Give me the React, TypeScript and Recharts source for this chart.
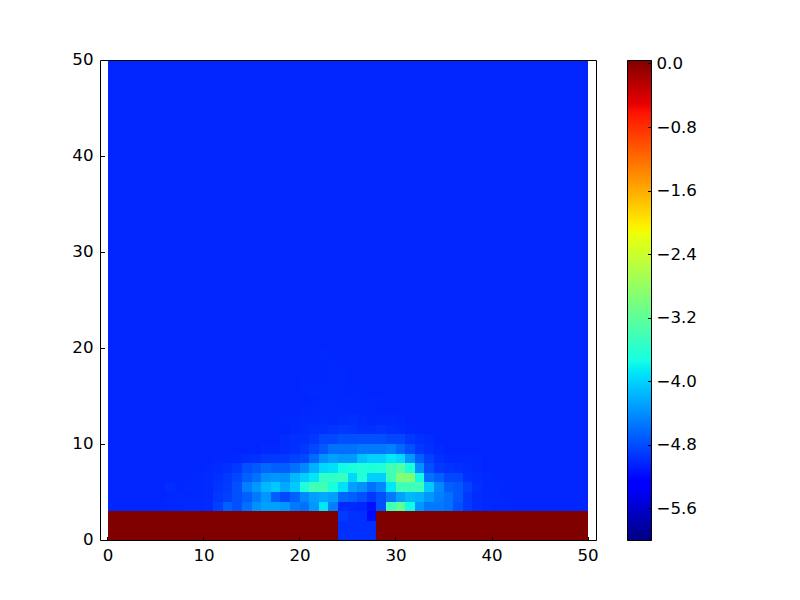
import React from 'react';
import { ComposedChart, ScatterChart, Scatter, XAxis, YAxis, ReferenceArea } from 'recharts';

// values
const background = -4.98;
const wall = 0.05;

const axisTicks = [0, 10, 20, 30, 40, 50];
const colorTicks = [0, -0.8, -1.6, -2.4, -3.2, -4, -4.8, -5.6];
const xDomain = [-0.78, 50.885];
const colorDomain = [-6, 0.044];
const cellRange = [-5.95, 0.05];

// the gap in the wall, columns 24..27, rows 0..2
const gapStart = 24;
const gapRow0 = [-4.92, -4.92, -4.92, -4.92];
const gapRow1 = [-4.92, -4.92, -4.92, -4.92];
const gapRow2 = [-4.86, -4.92, -4.92, -5.15];

// rows above the wall, all from column 10
const firstCol = 10;
const row3 = [-4.95, -4.82, -4.64, -4.73, -4.54, -4.35, -4.26, -4.26, -4.31, -4.49, -4.54, -4.31, -3.84, -4.45, -4.95, -4.96, -4.98, -5.1, -4.73, -3.38, -3.15, -3.72, -4.31, -4.49, -4.49, -4.54, -4.73, -4.87, -4.94];
const row4 = [-4.95, -4.87, -4.82, -4.73, -4.64, -4.49, -4.31, -4.64, -4.78, -4.64, -4.4, -4.26, -4.21, -4.26, -4.59, -4.64, -4.73, -4.87, -4.73, -4.49, -4.26, -4.12, -4.16, -4.31, -4.45, -4.54, -4.68, -4.87, -4.94];
const row5 = [-4.95, -4.9, -4.85, -4.73, -4.45, -4.31, -4.12, -4.02, -4.21, -4.02, -3.62, -3.38, -3.38, -3.68, -3.88, -4.26, -4.35, -4.54, -4.4, -3.84, -3.38, -3.4, -3.38, -4.02, -4.4, -4.64, -4.68, -4.82, -4.92];
const row6 = [-4.95, -4.92, -4.87, -4.78, -4.64, -4.54, -4.35, -4.31, -4.35, -4.12, -3.98, -3.84, -3.5, -3.5, -3.44, -3.93, -3.62, -3.98, -3.98, -3.38, -2.92, -2.92, -3.72, -4.54, -4.64, -4.78, -4.78, -4.92, -4.94];
const row7 = [-4.96, -4.95, -4.92, -4.87, -4.73, -4.68, -4.59, -4.64, -4.64, -4.54, -4.4, -4.16, -3.93, -3.88, -3.72, -3.68, -3.62, -3.65, -3.62, -3.38, -3.27, -3.65, -4.35, -4.73, -4.87, -4.9, -4.92, -4.94, -4.96];
const row8 = [-4.98, -4.97, -4.97, -4.96, -4.94, -4.92, -4.87, -4.87, -4.87, -4.82, -4.78, -4.59, -4.35, -4.26, -4.31, -4.31, -4.07, -3.98, -3.98, -3.84, -3.93, -4.31, -4.64, -4.82, -4.92, -4.96, -4.96, -4.96, -4.96];
const row9 = [-4.98, -4.98, -4.98, -4.98, -4.98, -4.98, -4.96, -4.96, -4.94, -4.92, -4.87, -4.78, -4.68, -4.54, -4.54, -4.54, -4.49, -4.49, -4.49, -4.45, -4.59, -4.73, -4.87, -4.92, -4.96, -4.98, -4.98, -4.98, -4.98];
const row10 = [-4.98, -4.98, -4.98, -4.98, -4.98, -4.98, -4.98, -4.98, -4.94, -4.92, -4.92, -4.87, -4.78, -4.78, -4.73, -4.73, -4.73, -4.73, -4.73, -4.78, -4.78, -4.87, -4.92, -4.94, -4.98, -4.98, -4.98, -4.98, -4.98];
const row11 = [-4.98, -4.98, -4.98, -4.98, -4.98, -4.98, -4.98, -4.98, -4.98, -4.96, -4.94, -4.92, -4.92, -4.89, -4.87, -4.89, -4.92, -4.92, -4.89, -4.92, -4.94, -4.96, -4.98, -4.98, -4.98, -4.98, -4.98, -4.98, -4.98];
const row12 = [-4.98, -4.98, -4.98, -4.98, -4.98, -4.98, -4.98, -4.98, -4.96, -4.96, -4.95, -4.95, -4.94, -4.96, -4.94, -4.92, -4.94, -4.96, -4.95, -4.95, -4.96, -4.98, -4.98, -4.98, -4.98, -4.98, -4.98, -4.98, -4.98];
const row13 = [-4.98, -4.98, -4.98, -4.98, -4.98, -4.98, -4.98, -4.98, -4.98, -4.98, -4.96, -4.96, -4.95, -4.95, -4.96, -4.96, -4.96, -4.97, -4.98, -4.98, -4.98, -4.98, -4.98, -4.98, -4.98, -4.98, -4.98, -4.98, -4.98];
const row14 = [-4.98, -4.98, -4.98, -4.98, -4.98, -4.98, -4.98, -4.98, -4.98, -4.98, -4.98, -4.97, -4.96, -4.96, -4.96, -4.96, -4.97, -4.96, -4.97, -4.98, -4.98, -4.98, -4.98, -4.98, -4.98, -4.98, -4.98, -4.98, -4.98];
const row15 = [-4.98, -4.98, -4.98, -4.98, -4.98, -4.98, -4.98, -4.98, -4.98, -4.98, -4.97, -4.96, -4.96, -4.96, -4.97, -4.97, -4.97, -4.98, -4.98, -4.98, -4.98, -4.98, -4.98, -4.98, -4.98, -4.98, -4.98, -4.98, -4.98];
const row16 = [-4.98, -4.98, -4.98, -4.98, -4.98, -4.98, -4.98, -4.98, -4.98, -4.98, -4.97, -4.97, -4.97, -4.96, -4.97, -4.98, -4.98, -4.98, -4.98, -4.98, -4.98, -4.98, -4.98, -4.98, -4.98, -4.98, -4.98, -4.98, -4.98];
const row17 = [-4.98, -4.98, -4.98, -4.98, -4.98, -4.98, -4.98, -4.98, -4.98, -4.98, -4.98, -4.98, -4.97, -4.96, -4.97, -4.98, -4.98, -4.98, -4.98, -4.98, -4.98, -4.98, -4.98, -4.98, -4.98, -4.98, -4.98, -4.98, -4.98];
const row18 = [-4.98, -4.98, -4.98, -4.98, -4.98, -4.98, -4.98, -4.98, -4.98, -4.98, -4.98, -4.98, -4.97, -4.97, -4.98, -4.98, -4.98, -4.98, -4.98, -4.98, -4.98, -4.98, -4.98, -4.98, -4.98, -4.98, -4.98, -4.98, -4.98];
const row19 = [-4.98, -4.98, -4.98, -4.98, -4.98, -4.98, -4.98, -4.98, -4.98, -4.98, -4.98, -4.98, -4.96, -4.98, -4.98, -4.98, -4.98, -4.98, -4.98, -4.98, -4.98, -4.98, -4.98, -4.98, -4.98, -4.98, -4.98, -4.98, -4.98];

// faint cells either side of the plume, rows 3..6
const leftFringeCol = 6;
const leftFringe = [
    [-4.97, -4.97, -4.96, -4.96],
    [-4.97, -4.96, -4.97, -4.96],
    [-4.94, -4.97, -4.96, -4.96],
    [-4.98, -4.97, -4.97, -4.96],
];
const rightFringeCol = 39;
const rightFringe = [
    [-4.96, -4.97, -4.97],
    [-4.96, -4.96, -4.97],
    [-4.96, -4.96, -4.97],
    [-4.96, -4.97, -4.97],
];

const openRows = [row3, row4, row5, row6, row7, row8, row9, row10, row11, row12, row13, row14, row15, row16, row17, row18, row19];
const gapRows = [gapRow0, gapRow1, gapRow2];

const cellValue = (col: number, row: number) => {
    if (row < 3) {
        const gap = gapRows[row][col - gapStart];
        return gap === undefined ? wall : gap;
    }
    const v = openRows[row - 3]?.[col - firstCol]
        ?? leftFringe[row - 3]?.[col - leftFringeCol]
        ?? rightFringe[row - 3]?.[col - rightFringeCol];
    return v === undefined ? background : v;
};

const cells: { x: number; y: number; v: number }[] = [];
for (let row = 0; row < 50; row++) {
    for (let col = 0; col < 50; col++) {
        cells.push({ x: col + 0.5, y: row + 0.5, v: cellValue(col, row) });
    }
}

const colorMarks = colorTicks.map((v) => ({ x: 0.5, y: v }));

// matplotlib's jet
const jetR = [[0, 0], [0.35, 0], [0.66, 1], [0.89, 1], [1, 0.5]];
const jetG = [[0, 0], [0.125, 0], [0.375, 1], [0.64, 1], [0.91, 0], [1, 0]];
const jetB = [[0, 0.5], [0.11, 1], [0.34, 1], [0.65, 0], [1, 0]];
const jetStops = [0, 0.11, 0.125, 0.34, 0.35, 0.375, 0.64, 0.65, 0.66, 0.89, 0.91, 1];

const lerp = (table: number[][], t: number) => {
    for (let i = 1; i < table.length; i++) {
        if (t <= table[i][0]) {
            const [a, av] = table[i - 1];
            const [b, bv] = table[i];
            return av + ((t - a) / (b - a)) * (bv - av);
        }
    }
    return table[table.length - 1][1];
};

const jet = (t: number) => {
    const c = Math.min(1, Math.max(0, t));
    const to255 = (x: number) => Math.round(x * 255);
    return `rgb(${to255(lerp(jetR, c))},${to255(lerp(jetG, c))},${to255(lerp(jetB, c))})`;
};

const valueColor = (v: number) => jet((v - cellRange[0]) / (cellRange[1] - cellRange[0]));

const FONT = 'DejaVu Sans';
const FONT_SIZE = 16.67;
const CELL = 9.6;

// snap to whole pixels the way imshow does, so neighbours never leave seams
const snap = (p: number) => Math.floor(p + 0.05);

const CellShape = (props: any) => {
    const left = snap(props.cx - CELL / 2);
    const right = snap(props.cx + CELL / 2);
    const top = snap(props.cy - CELL / 2);
    const bottom = snap(props.cy + CELL / 2);
    return (
        <rect x={left} y={top} width={right - left} height={bottom - top} fill={valueColor(props.payload.v)} shapeRendering="crispEdges" />
    );
};

const tickLine = (x1: number, y1: number, x2: number, y2: number) => (
    <line x1={x1} y1={y1} x2={x2} y2={y2} stroke="#000" strokeWidth={1} shapeRendering="crispEdges" />
);

const BottomTick = ({ x, y, payload }: any) => (
    <g>
        {tickLine(x, y, x, y - 4)}
        <text x={x} y={y + 20} textAnchor="middle" fontFamily={FONT} fontSize={FONT_SIZE} fill="#000">{payload.value}</text>
    </g>
);
const TopTick = ({ x, y }: any) => <g>{tickLine(x, y, x, y + 4)}</g>;
const LeftTick = ({ x, y, payload }: any) => (
    <g>
        {tickLine(x, y, x + 4, y)}
        <text x={x - 7} y={y + 4} textAnchor="end" fontFamily={FONT} fontSize={FONT_SIZE} fill="#000">{payload.value}</text>
    </g>
);
const RightTick = ({ x, y }: any) => <g>{tickLine(x, y, x - 4, y)}</g>;

const ColorTick = ({ x, y, payload }: any) => {
    const v = payload.value;
    const label = v === 0 ? '0.0' : `\u2212${Math.abs(v).toFixed(1)}`;
    return (
        <g>
            {tickLine(x, y, x - 4, y)}
            <text x={x + 5} y={y + 5} textAnchor="start" fontFamily={FONT} fontSize={FONT_SIZE} fill="#000">{label}</text>
        </g>
    );
};

const NoMark = () => <g />;

const layer: React.CSSProperties = { position: 'absolute', left: 0, top: 0 };

const App = () => (
    <div style={{ position: 'absolute', left: 0, top: 0, width: 800, height: 600, background: '#fff' }}>
        {/* the cells, with the axes hidden */}
        <div style={layer}>
            <ScatterChart width={800} height={600} margin={{ top: 60.5, left: 100.5, right: 203.5, bottom: 59.5 }}>
                <XAxis type="number" dataKey="x" domain={xDomain} hide />
                <YAxis type="number" dataKey="y" domain={[0, 50]} hide />
                <Scatter data={cells} shape={<CellShape />} isAnimationActive={false} />
            </ScatterChart>
        </div>
        {/* frame and ticks sit on top of the cells, so they get their own layer */}
        <div style={layer}>
            <ScatterChart width={800} height={600} margin={{ top: 50.5, left: 60.5, right: 193.5, bottom: 29.5 }}>
                <XAxis type="number" dataKey="x" domain={xDomain} ticks={axisTicks} interval={0} height={30} tickLine={false} tickSize={0} tickMargin={0} axisLine={{ stroke: '#000' }} tick={<BottomTick />} />
                <XAxis xAxisId="top" orientation="top" type="number" domain={xDomain} ticks={axisTicks} interval={0} height={10} tickLine={false} tickSize={0} tickMargin={0} axisLine={{ stroke: '#000' }} tick={<TopTick />} />
                <YAxis type="number" dataKey="y" domain={[0, 50]} ticks={axisTicks} interval={0} width={40} tickLine={false} tickSize={0} tickMargin={0} axisLine={{ stroke: '#000' }} tick={<LeftTick />} />
                <YAxis yAxisId="right" orientation="right" type="number" domain={[0, 50]} ticks={axisTicks} interval={0} width={10} tickLine={false} tickSize={0} tickMargin={0} axisLine={{ stroke: '#000' }} tick={<RightTick />} />
                <Scatter data={cells.slice(0, 1)} shape={<NoMark />} isAnimationActive={false} />
            </ScatterChart>
        </div>
        <div style={{ position: 'absolute', left: 600, top: 0 }}>
            <ComposedChart width={120} height={600} margin={{ top: 60.5, left: 27.5, right: 18.5, bottom: 59.5 }}>
                <defs>
                    <linearGradient id="jetBar" x1="0" y1="1" x2="0" y2="0">
                        {jetStops.map((t) => <stop key={t} offset={t} stopColor={jet(t)} />)}
                    </linearGradient>
                </defs>
                <XAxis type="number" dataKey="x" domain={[0, 1]} height={0} hide />
                <YAxis orientation="right" type="number" dataKey="y" domain={colorDomain} ticks={colorTicks} interval={0} width={50} tickLine={false} tickSize={0} tickMargin={0} axisLine={false} tick={<ColorTick />} />
                <ReferenceArea x1={0} x2={1} y1={colorDomain[0]} y2={colorDomain[1]} fill="url(#jetBar)" fillOpacity={1} stroke="#000" strokeWidth={1} />
                <Scatter data={colorMarks} shape={<NoMark />} isAnimationActive={false} />
            </ComposedChart>
        </div>
    </div>
);

export default App;
